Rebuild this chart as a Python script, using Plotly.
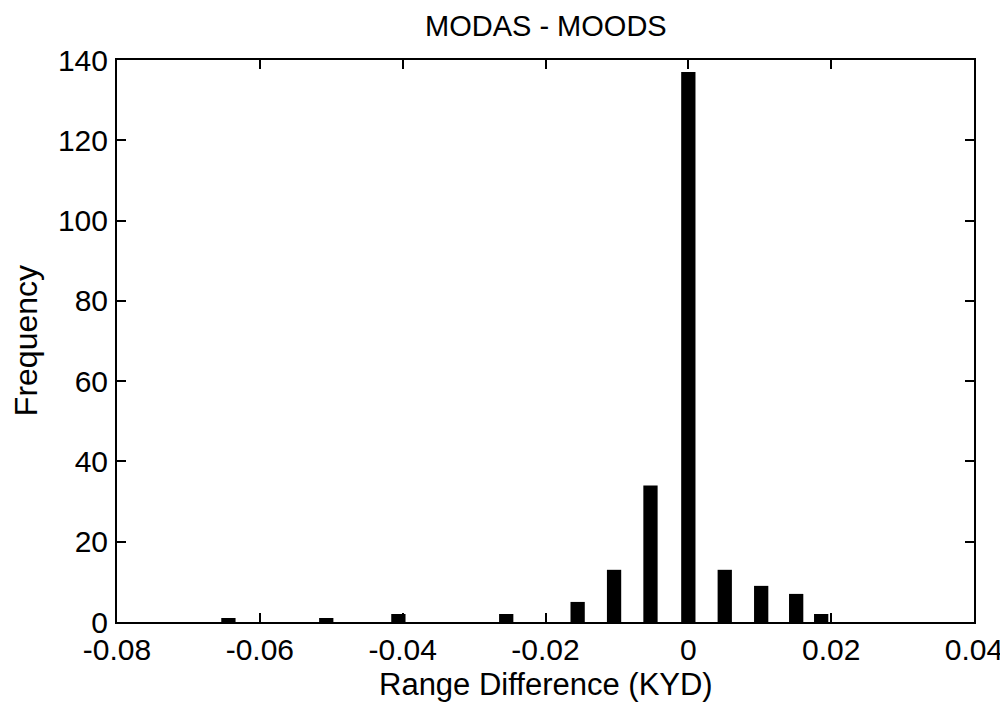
import plotly.graph_objects as go

bin_centers = [-0.0644, -0.0507, -0.0406, -0.0255, -0.0155, -0.0104, -0.0053, 0.0, 0.0051, 0.0102, 0.0151, 0.0186]
frequency = [1, 1, 2, 2, 5, 13, 34, 137, 13, 9, 7, 2]
x_ticks = [-0.08, -0.06, -0.04, -0.02, 0, 0.02, 0.04]
x_tick_labels = ["-0.08", "-0.06", "-0.04", "-0.02", "0", "0.02", "0.04"]
y_ticks = [0, 20, 40, 60, 80, 100, 120, 140]

fig = go.Figure()
fig.add_trace(go.Bar(x=bin_centers, y=frequency, width=0.002,
                     marker=dict(color="black", line=dict(width=0))))

font = "Liberation Sans, Arial, sans-serif"
axis_common = dict(showline=True, linecolor="black", linewidth=2, mirror="ticks",
                   ticks="inside", ticklen=9, tickwidth=2, tickcolor="black",
                   showgrid=False, zeroline=False, automargin=False,
                   tickfont=dict(family=font, size=30, color="black"))
# page has an 8px body margin, so the figure is 1000x702 placed at (8, 8)
fig.update_layout(
    width=1000, height=702,
    margin=dict(l=109, r=34, t=52, b=88),
    plot_bgcolor="white", paper_bgcolor="white",
    showlegend=False,
    xaxis=dict(range=[-0.08, 0.04], tickvals=x_ticks, ticktext=x_tick_labels,
               ticklabelstandoff=0, **axis_common),
    yaxis=dict(range=[0, 140], tickvals=y_ticks, ticklabelstandoff=1,
               **axis_common),
    annotations=[
        dict(text="MODAS - MOODS", xref="paper", yref="paper",
             x=0.5, y=1.06, xanchor="center", yanchor="middle", showarrow=False,
             font=dict(family=font, size=29, color="black")),
        dict(text="Range Difference (KYD)", xref="paper", yref="paper",
             x=0.5, y=-0.111, xanchor="center", yanchor="middle", showarrow=False,
             font=dict(family=font, size=31, color="black")),
        dict(text="Frequency", xref="paper", yref="paper",
             x=-0.106, y=0.5, xanchor="center", yanchor="middle", showarrow=False,
             textangle=-90, font=dict(family=font, size=32, color="black")),
    ],
)
fig.write_html("out.html")
